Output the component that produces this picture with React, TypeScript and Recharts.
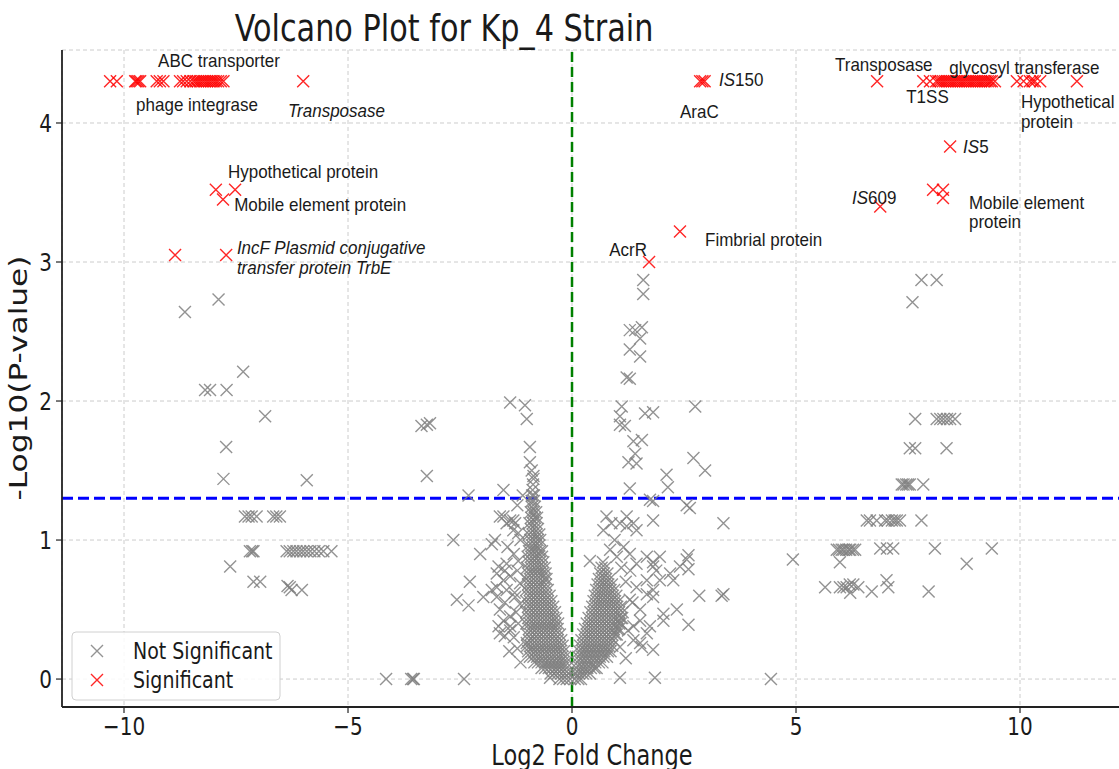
import React from "react";
import { ScatterChart, Scatter, XAxis, YAxis, CartesianGrid, ReferenceLine } from "recharts";

// the source image is a little stretched vertically, so text is drawn the same way
const SY = 1.25;
const SY_LABEL = 1.1;

const xTicks = [-10, -5, 0, 5, 10];
const yTicks = [0, 1, 2, 3, 4];
const pThreshold = 1.3;
const topY = 4.3; // capped -log10(p)

// significant genes at the cap
const sigLeftTopX = [
  -10.31, -10.16, -9.75, -9.72, -9.68, -9.64, -9.27, -9.2, -9.12, -8.75, -8.68, -8.6, -8.52, -8.45,
  -8.4, -8.35, -8.3, -8.25, -8.2, -8.15, -8.1, -8.05, -8.0, -7.95, -7.9, -7.84, -7.78, -6.0,
];
const sigRightTopX = [
  2.86, 2.91, 2.96, 6.81, 7.84, 7.99, 8.13, 8.18, 8.23, 8.28, 8.33, 8.38, 8.43, 8.48, 8.53, 8.58,
  8.63, 8.68, 8.73, 8.78, 8.83, 8.88, 8.93, 8.98, 9.03, 9.08, 9.13, 9.18, 9.23, 9.28, 9.33, 9.37,
  9.44, 9.93, 10.08, 10.22, 10.28, 10.33, 10.45, 11.27,
];
const sigOther: [number, number][] = [
  [-7.95, 3.52], [-7.79, 3.45], [-7.52, 3.52], [-8.86, 3.05], [-7.72, 3.05],
  [8.44, 3.83], [8.06, 3.52], [8.28, 3.52], [8.28, 3.46], [6.88, 3.4], [2.41, 3.22], [1.72, 3.0],
];

// not significant
const nsLeftFar: [number, number][] = [
  [-8.64, 2.64], [-7.89, 2.73], [-8.19, 2.08], [-8.08, 2.08], [-7.71, 2.08], [-7.34, 2.21],
  [-6.85, 1.89], [-7.72, 1.67], [-7.78, 1.44], [-5.92, 1.43],
  [-7.3, 1.17], [-7.22, 1.17], [-7.15, 1.17], [-7.04, 1.17], [-6.67, 1.17], [-6.6, 1.17], [-6.52, 1.17],
  [-7.19, 0.92], [-7.14, 0.92], [-7.11, 0.92], [-6.37, 0.92], [-6.3, 0.92], [-6.22, 0.92], [-6.15, 0.92],
  [-6.07, 0.92], [-6.0, 0.92], [-5.92, 0.92], [-5.84, 0.92], [-5.75, 0.92], [-5.65, 0.92], [-5.55, 0.92],
  [-5.37, 0.92], [-7.63, 0.81], [-7.11, 0.7], [-6.96, 0.7], [-6.35, 0.67], [-6.3, 0.66], [-6.26, 0.64],
  [-6.03, 0.64], [-4.15, 0], [-3.59, 0], [-3.55, 0], [-3.53, 0], [-2.41, 0],
];
const nsCenterLeft: [number, number][] = [
  [-3.36, 1.82], [-3.24, 1.83], [-3.17, 1.84], [-3.24, 1.46], [-2.31, 1.32], [-1.53, 1.36],
  [-2.65, 1.0], [-1.79, 0.97], [-2.05, 0.9], [-2.28, 0.7], [-2.57, 0.57], [-2.31, 0.53],
  [-1.98, 0.59], [-1.79, 0.64], [-1.68, 0.59], [-1.61, 0.5], [-1.53, 0.42], [-1.38, 0.38],
  [-1.61, 0.33], [-1.5, 0.31], [-1.01, 0.26], [-0.49, 0.01],
  [-1.38, 1.99], [-1.05, 1.97], [-1.01, 1.87], [-0.94, 1.67], [-0.94, 1.56], [-0.9, 1.5], [-0.86, 1.46],
  [-1.53, 1.17], [-1.61, 1.17], [-1.46, 1.12], [-1.38, 1.14], [-1.31, 1.14], [-1.27, 1.12], [-1.31, 1.07],
  [-1.72, 1.0], [-1.64, 0.81], [-1.5, 0.78], [-1.38, 0.74], [-1.46, 0.83], [-1.68, 0.76], [-1.53, 0.71],
  [-1.68, 0.66], [-1.46, 0.64], [-1.27, 0.59], [-1.38, 0.45], [-1.64, 0.38], [-1.38, 0.35],
  [-1.16, 0.69], [-1.16, 0.54], [-1.2, 0.85], [-1.15, 1.0],
  [-1.25, 0.48], [-1.2, 0.4], [-1.3, 0.3], [-1.22, 0.22], [-1.4, 0.2], [-1.15, 0.12], [-1.28, 0.62],
  [-1.22, 0.78], [-1.3, 0.9], [-1.2, 1.05], [-1.44, 0.95], [-1.5, 0.55], [-1.22, 1.25], [-1.1, 1.32],
];
const nsCenterRight: [number, number][] = [
  [1.59, 2.87], [1.59, 2.77], [1.29, 2.51], [1.41, 2.51], [1.56, 2.53], [1.52, 2.45], [1.29, 2.37],
  [1.52, 2.32], [1.22, 2.17], [1.29, 2.16], [1.11, 1.96], [1.63, 1.91], [1.81, 1.92], [2.75, 1.96],
  [1.07, 1.89], [1.07, 1.83], [1.18, 1.82], [1.37, 1.71], [1.56, 1.72], [1.41, 1.62], [1.26, 1.56],
  [1.44, 1.55], [2.71, 1.59], [2.97, 1.5], [2.11, 1.47], [2.14, 1.38], [1.29, 1.37],
  [1.81, 1.28], [2.56, 1.25], [2.63, 1.23], [3.38, 1.12],
  [0.77, 1.17], [0.88, 1.12], [0.7, 1.07], [1.22, 1.17], [1.37, 1.12], [1.44, 1.07], [1.74, 1.29],
  [1.81, 1.14], [1.07, 1.12], [1.22, 1.1], [0.85, 0.93], [1.0, 0.88], [1.29, 0.9], [1.44, 0.83],
  [0.4, 0.85], [1.67, 0.71], [1.81, 0.64], [1.29, 0.57], [1.52, 0.5], [1.37, 0.38], [1.67, 0.33],
  [1.52, 0.26], [1.81, 0.21], [1.07, 0.01], [1.88, 0.78],
  [1.67, 0.88], [1.81, 0.84], [1.96, 0.88], [1.81, 0.81], [2.19, 0.76], [2.41, 0.81], [2.56, 0.86],
  [2.6, 0.89], [1.96, 0.71], [2.26, 0.71], [2.6, 0.79], [1.44, 0.66], [1.67, 0.61], [1.81, 0.59],
  [2.04, 0.47], [2.04, 0.42], [2.34, 0.5], [2.6, 0.39], [2.84, 0.6], [3.34, 0.6], [3.38, 0.61],
  [1.52, 0.42], [1.74, 0.38], [1.37, 0.28], [1.56, 0.23], [1.07, 0.23], [1.85, 0.01],
  [1.2, 0.7], [1.3, 0.78], [1.25, 0.35], [1.2, 0.15], [1.35, 0.55], [1.15, 0.95], [0.95, 1.0], [1.1, 0.8],
];
const nsRightFar: [number, number][] = [
  [4.44, 0], [4.93, 0.86], [7.8, 2.87], [8.14, 2.87], [7.6, 2.71],
  [7.66, 1.87], [8.14, 1.87], [8.22, 1.87], [8.29, 1.87], [8.37, 1.87], [8.44, 1.87], [8.55, 1.87],
  [7.54, 1.66], [7.66, 1.66], [8.36, 1.66],
  [7.36, 1.4], [7.4, 1.4], [7.46, 1.4], [7.5, 1.4], [7.54, 1.4], [7.84, 1.4],
  [6.58, 1.14], [6.65, 1.14], [6.8, 1.14], [6.99, 1.14], [7.05, 1.14], [7.14, 1.14], [7.2, 1.14],
  [7.25, 1.14], [7.32, 1.14], [7.8, 1.14],
  [5.91, 0.93], [5.96, 0.93], [6.02, 0.93], [6.06, 0.93], [6.12, 0.93], [6.18, 0.93], [6.21, 0.93],
  [6.27, 0.93], [6.32, 0.93], [6.88, 0.94], [7.03, 0.94], [7.17, 0.94], [8.1, 0.94], [9.37, 0.94],
  [5.98, 0.84], [8.81, 0.83],
  [5.65, 0.66], [5.98, 0.66], [6.06, 0.66], [6.13, 0.66], [6.2, 0.68], [6.28, 0.68], [6.39, 0.66],
  [6.21, 0.62], [6.69, 0.63], [7.02, 0.71], [7.06, 0.66], [7.96, 0.63],
];

// the dense "V" near zero, read row by row: [-log10 p, log2FC values]
const vLeftRows: [number, number[]][] = [
  [0.0, [-0.28, -0.2, -0.12, -0.04]],
  [0.04, [-0.48, -0.4, -0.32, -0.24, -0.16, -0.08]],
  [0.08, [-0.68, -0.6, -0.52, -0.44, -0.36, -0.28, -0.2, -0.12]],
  [0.12, [-0.84, -0.76, -0.68, -0.6, -0.52, -0.44, -0.36, -0.28, -0.2, -0.13]],
  [0.16, [-0.94, -0.86, -0.78, -0.7, -0.62, -0.54, -0.46, -0.38, -0.3, -0.22, -0.15]],
  [0.2, [-0.98, -0.9, -0.82, -0.74, -0.66, -0.58, -0.5, -0.42, -0.34, -0.26, -0.18]],
  [0.24, [-1.0, -0.92, -0.84, -0.76, -0.68, -0.6, -0.52, -0.44, -0.36, -0.28, -0.21]],
  [0.28, [-0.96, -0.88, -0.8, -0.72, -0.64, -0.56, -0.48, -0.4, -0.32, -0.24]],
  [0.32, [-1.0, -0.92, -0.84, -0.76, -0.68, -0.6, -0.52, -0.44, -0.36, -0.27]],
  [0.36, [-0.96, -0.88, -0.8, -0.72, -0.64, -0.56, -0.48, -0.4, -0.32]],
  [0.4, [-1.02, -0.94, -0.86, -0.78, -0.7, -0.62, -0.54, -0.46, -0.38, -0.31]],
  [0.44, [-0.98, -0.9, -0.82, -0.74, -0.66, -0.58, -0.5, -0.42, -0.35]],
  [0.48, [-1.02, -0.94, -0.86, -0.78, -0.7, -0.62, -0.54, -0.46, -0.38]],
  [0.52, [-0.98, -0.9, -0.82, -0.74, -0.66, -0.58, -0.5, -0.42]],
  [0.56, [-1.02, -0.94, -0.86, -0.78, -0.7, -0.62, -0.54, -0.46]],
  [0.6, [-0.98, -0.9, -0.82, -0.74, -0.66, -0.58, -0.5]],
  [0.64, [-1.02, -0.94, -0.86, -0.78, -0.7, -0.62, -0.54]],
  [0.68, [-0.98, -0.9, -0.82, -0.74, -0.66, -0.58]],
  [0.72, [-1.02, -0.94, -0.86, -0.78, -0.7, -0.62, -0.57]],
  [0.76, [-0.98, -0.9, -0.82, -0.74, -0.66, -0.59]],
  [0.8, [-1.0, -0.92, -0.84, -0.76, -0.68, -0.61]],
  [0.84, [-0.96, -0.88, -0.8, -0.72, -0.64]],
  [0.88, [-0.99, -0.91, -0.83, -0.75, -0.67]],
  [0.92, [-0.96, -0.88, -0.8, -0.72, -0.67]],
  [0.96, [-0.97, -0.89, -0.81, -0.73]],
  [1.0, [-0.93, -0.85, -0.77, -0.71]],
  [1.04, [-0.96, -0.88, -0.8, -0.73]],
  [1.08, [-0.92, -0.84, -0.76]],
  [1.12, [-0.95, -0.87, -0.79]],
  [1.16, [-0.91, -0.83, -0.78]],
  [1.2, [-0.92, -0.86, -0.8]],
  [1.24, [-0.9, -0.83]],
  [1.28, [-0.9, -0.85]],
  [1.32, [-0.89, -0.85]],
  [1.36, [-0.88]],
  [1.4, [-0.87]],
  [1.44, [-0.86]],
];
const vRightRows: [number, number[]][] = [
  [0.0, [0.06, 0.14, 0.2]],
  [0.04, [0.08, 0.16, 0.24, 0.32, 0.4]],
  [0.08, [0.1, 0.18, 0.26, 0.34, 0.42, 0.5, 0.55]],
  [0.12, [0.12, 0.2, 0.28, 0.36, 0.44, 0.52, 0.6, 0.68]],
  [0.16, [0.14, 0.22, 0.3, 0.38, 0.46, 0.54, 0.62, 0.7, 0.78]],
  [0.2, [0.16, 0.24, 0.32, 0.4, 0.48, 0.56, 0.64, 0.72, 0.8, 0.86]],
  [0.24, [0.18, 0.26, 0.34, 0.42, 0.5, 0.58, 0.66, 0.74, 0.82, 0.9]],
  [0.28, [0.21, 0.29, 0.37, 0.45, 0.53, 0.61, 0.69, 0.77, 0.85, 0.93]],
  [0.32, [0.25, 0.33, 0.41, 0.49, 0.57, 0.65, 0.73, 0.81, 0.89, 0.97, 1.0]],
  [0.36, [0.29, 0.37, 0.45, 0.53, 0.61, 0.69, 0.77, 0.85, 0.93, 1.01, 1.05]],
  [0.4, [0.33, 0.41, 0.49, 0.57, 0.65, 0.73, 0.81, 0.89, 0.97, 1.05, 1.09]],
  [0.44, [0.37, 0.45, 0.53, 0.61, 0.69, 0.77, 0.85, 0.93, 1.01, 1.09, 1.12]],
  [0.48, [0.41, 0.49, 0.57, 0.65, 0.73, 0.81, 0.89, 0.97, 1.05, 1.13]],
  [0.52, [0.45, 0.53, 0.61, 0.69, 0.77, 0.85, 0.93, 1.01, 1.09]],
  [0.56, [0.48, 0.56, 0.64, 0.72, 0.8, 0.88, 0.96, 1.04]],
  [0.6, [0.51, 0.59, 0.67, 0.75, 0.83, 0.91, 0.99]],
  [0.64, [0.54, 0.62, 0.7, 0.78, 0.86, 0.94]],
  [0.68, [0.57, 0.65, 0.73, 0.81, 0.89]],
  [0.72, [0.6, 0.68, 0.76, 0.84]],
  [0.76, [0.63, 0.71, 0.79]],
  [0.8, [0.66, 0.74]],
  [0.84, [0.69]],
];

// gene labels: anchor point (left edge, middle of text) in data units
const annotations = [
  { x: -9.24, y: 4.45, parts: [["ABC transporter", false]] },
  { x: -9.73, y: 4.13, parts: [["phage integrase", false]] },
  { x: -6.34, y: 4.09, parts: [["Transposase", true]] },
  { x: -7.68, y: 3.65, parts: [["Hypothetical protein", false]] },
  { x: -7.54, y: 3.41, parts: [["Mobile element protein", false]] },
  { x: -7.48, y: 3.1, parts: [["IncF Plasmid conjugative", true]] },
  { x: -7.48, y: 2.96, parts: [["transfer protein TrbE", true]] },
  { x: 3.28, y: 4.31, parts: [["IS", true], ["150", false]] },
  { x: 2.41, y: 4.08, parts: [["AraC", false]] },
  { x: 5.87, y: 4.42, parts: [["Transposase", false]] },
  { x: 8.42, y: 4.4, parts: [["glycosyl transferase", false]] },
  { x: 7.46, y: 4.19, parts: [["T1SS", false]] },
  { x: 10.02, y: 4.15, parts: [["Hypothetical", false]] },
  { x: 10.02, y: 4.01, parts: [["protein", false]] },
  { x: 8.73, y: 3.83, parts: [["IS", true], ["5", false]] },
  { x: 6.25, y: 3.46, parts: [["IS", true], ["609", false]] },
  { x: 8.86, y: 3.43, parts: [["Mobile element", false]] },
  { x: 8.86, y: 3.29, parts: [["protein", false]] },
  { x: 2.97, y: 3.16, parts: [["Fimbrial protein", false]] },
  { x: 0.83, y: 3.09, parts: [["AcrR", false]] },
];

const pairs = (list: [number, number][]) => list.map(([x, y]) => ({ x, y }));
const rows = (list: [number, number[]][]) => list.flatMap(([y, xs]) => xs.map((x) => ({ x, y })));

const notSigData = [
  ...pairs(nsLeftFar),
  ...pairs(nsCenterLeft),
  ...pairs(nsCenterRight),
  ...pairs(nsRightFar),
  ...rows(vLeftRows),
  ...rows(vRightRows),
];
const sigData = [
  ...sigLeftTopX.map((x) => ({ x, y: topY })),
  ...sigRightTopX.map((x) => ({ x, y: topY })),
  ...pairs(sigOther),
];

const GREY = "#808080";
const RED = "#ff0000";
const DEJAVU = "DejaVu Sans, sans-serif";
const ARIAL = "Liberation Sans, Arial, sans-serif";

function STxt({ x, y, size, family, anchor = "start", italic = false, fill = "#1a1a1a", rotate, sy = SY, children }: any) {
  const tr = `translate(${x},${y}) scale(1,${sy})` + (rotate ? ` rotate(${rotate})` : "");
  return (
    <text
      transform={tr}
      fontSize={size}
      fontFamily={family}
      fontStyle={italic ? "italic" : "normal"}
      textAnchor={anchor}
      dominantBaseline="central"
      fill={fill}
    >
      {children}
    </text>
  );
}

function Cross({ cx, cy, color }: { cx: number; cy: number; color: string }) {
  const h = 6;
  return (
    <path
      d={`M${cx - h},${cy - h}L${cx + h},${cy + h}M${cx - h},${cy + h}L${cx + h},${cy - h}`}
      stroke={color}
      strokeWidth={1.4}
      strokeOpacity={0.85}
      fill="none"
    />
  );
}

const fmt = (v: number) => (v < 0 ? "\u2212" + Math.abs(v) : String(v));

const XTick = (p: any) => (
  <STxt x={p.x} y={p.y + 11} size={20} family={DEJAVU} anchor="middle">
    {fmt(p.payload.value)}
  </STxt>
);
const YTick = (p: any) => (
  <STxt x={p.x - 2} y={p.y} size={20} family={DEJAVU} anchor="end">
    {fmt(p.payload.value)}
  </STxt>
);

const Label = (p: any) => {
  const d = p.payload ?? p;
  return (
    <STxt x={p.cx} y={p.cy} size={17} family={ARIAL} sy={SY_LABEL}>
      {d.parts.map(([t, it]: [string, boolean], i: number) => (
        <tspan key={i} fontStyle={it ? "italic" : "normal"}>
          {t}
        </tspan>
      ))}
    </STxt>
  );
};

export default function App() {
  return (
    <div style={{ position: "fixed", left: 0, top: 0, width: 1119, height: 769, overflow: "hidden", background: "#fff" }}>
      <ScatterChart width={1130} height={769} margin={{ top: 50, right: 0, bottom: 0, left: 0 }}>
        <CartesianGrid stroke="#cccccc" strokeDasharray="4 3" strokeWidth={1} />
        <XAxis
          type="number"
          dataKey="x"
          domain={[-11.384, 12.455]}
          ticks={xTicks}
          interval={0}
          allowDataOverflow
          height={62}
          axisLine={{ stroke: "#222", strokeWidth: 1.8 }}
          tickLine={{ stroke: "#222", strokeWidth: 1.2 }}
          tickSize={6}
          tick={<XTick />}
        />
        <YAxis
          type="number"
          dataKey="y"
          domain={[-0.201, 4.525]}
          ticks={yTicks}
          interval={0}
          allowDataOverflow
          width={62}
          axisLine={{ stroke: "#222", strokeWidth: 1.8 }}
          tickLine={{ stroke: "#222", strokeWidth: 1.2 }}
          tickSize={6}
          tick={<YTick />}
        />
        <Scatter
          data={notSigData}
          isAnimationActive={false}
          shape={(p: any) => <Cross cx={p.cx} cy={p.cy} color={GREY} />}
        />
        <Scatter
          data={sigData}
          isAnimationActive={false}
          shape={(p: any) => <Cross cx={p.cx} cy={p.cy} color={RED} />}
        />
        <ReferenceLine y={pThreshold} stroke="#0000ff" strokeWidth={3} strokeDasharray="11 5" />
        <ReferenceLine x={0} stroke="#008000" strokeWidth={2.5} strokeDasharray="10 5" />
        <Scatter data={annotations} isAnimationActive={false} shape={Label} />
      </ScatterChart>
      <svg width={1119} height={769} style={{ position: "absolute", left: 0, top: 0, pointerEvents: "none" }}>
        <STxt x={444} y={28} size={30.3} family={DEJAVU} anchor="middle">
          Volcano Plot for Kp_4 Strain
        </STxt>
        <STxt x={592} y={755} size={22.5} family={DEJAVU} anchor="middle">
          Log2 Fold Change
        </STxt>
        <STxt x={19} y={378} size={25} family={DEJAVU} anchor="middle" rotate={-90}>
          -Log10(P-value)
        </STxt>
        <rect x={72} y={632} width={208} height={68} rx={4} fill="#fff" fillOpacity={0.85} stroke="#d0d0d0" />
        <Cross cx={97} cy={651} color={GREY} />
        <STxt x={133} y={651} size={19} family={DEJAVU}>
          Not Significant
        </STxt>
        <Cross cx={97} cy={680} color={RED} />
        <STxt x={133} y={680} size={19} family={DEJAVU}>
          Significant
        </STxt>
      </svg>
    </div>
  );
}
